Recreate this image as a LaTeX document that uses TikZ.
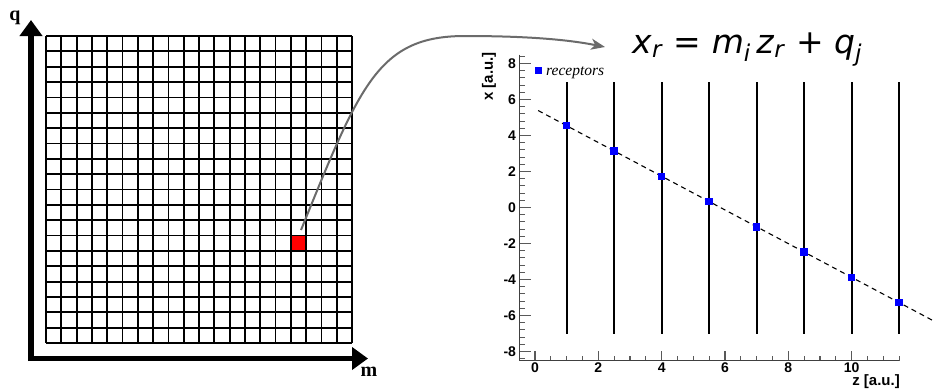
\documentclass[tikz,border=0pt]{standalone}
\usepackage{fontspec}
\usetikzlibrary{arrows.meta}
\newfontfamily\eqfont{DejaVu Sans}
\newfontfamily\rootfont{Liberation Sans}
\newfontfamily\serfont{Liberation Serif}
\begin{document}
\begin{tikzpicture}[x=1pt,y=-1pt,
  gridline/.style={line width=1.8pt,black},
  bigaxis/.style={line width=5.5pt,black,-{Triangle[length=16pt,width=22pt]}},
  bigaxislabel/.style={font=\serfont\bfseries\fontsize{20}{22}\selectfont,inner sep=0pt},
  curvearrow/.style={line width=2pt,color=black!58,-{Stealth[length=14pt,width=11pt,inset=4pt]}},
  plotaxis/.style={line width=1.3pt,color=black!75},
  tickline/.style={line width=1.1pt,color=black!65},
  ticklabel/.style={font=\rootfont\bfseries\fontsize{14}{16}\selectfont,inner sep=0pt},
  axistitle/.style={font=\rootfont\bfseries\fontsize{15}{17}\selectfont,inner sep=0pt},
  recline/.style={line width=1.7pt,black},
  fitline/.style={line width=1.1pt,black,dash pattern=on 5pt off 4pt},
  recpt/.style={fill=blue,draw=none,minimum size=7.5pt,inner sep=0pt},
  legpt/.style={fill=blue,draw=none,minimum size=7pt,inner sep=0pt}]
\useasboundingbox (0,0) rectangle (933,389);
\fill[white] (0,0) rectangle (933,389);

% ---------- left: (m,q) grid ----------
\node[fill=red,draw=none,minimum width=15.3pt,minimum height=15.35pt,inner sep=0pt,anchor=north west] (cell) at ({46+15.3*16},{36+15.35*13}) {};
\foreach \i in {0,...,20} {
  \draw[gridline] ({46+15.3*\i},36) -- ({46+15.3*\i},343);
  \draw[gridline] (46,{36+15.35*\i}) -- (352,{36+15.35*\i});
}
\coordinate (origin) at (31,361);
\coordinate (qtip) at (31,20);
\coordinate (mstart) at (28,358.5);
\coordinate (mtip) at (368,358.5);
\draw[bigaxis] (origin) -- (qtip);
\draw[bigaxis] (mstart) -- (mtip);
\node[bigaxislabel] (qlab) at (15,18) {q};
\node[bigaxislabel] (mlab) at (369,372) {m};

% ---------- equation and arrow ----------
\node[anchor=base west,inner sep=0pt] (eq) at (632,53)
  {\eqfont\fontsize{33}{40}\selectfont \textit{x}\textsubscript{\textit{r}} = \textit{m}\textsubscript{\textit{i}}\,\textit{z}\textsubscript{\textit{r}} + \textit{q}\textsubscript{\textit{j}}};
\coordinate (arrS) at (301,230);
\coordinate (arrE) at (605,47);
\draw[curvearrow] (arrS) .. controls (360,85) and (378,36) .. (465,36)
                         .. controls (530,36) and (570,40) .. (arrE);

% ---------- right: plot ----------
\begin{scope}[shift={(535,207.5)},x=31.67pt,y=18pt]
  % minor ticks
  \foreach \k in {-21,...,21}
    \draw[tickline] (-0.5,{0.4*\k}) -- ++(6pt,0pt);
  \foreach \k in {1,...,23}
    \draw[tickline] ({0.5*\k},-8.5) -- ++(0pt,5pt);
  % major ticks and labels
  \foreach \v in {-8,-6,...,8} {
    \draw[tickline] (-0.5,\v) -- ++(11.7pt,0pt);
    \node[ticklabel,anchor=east] at ([xshift=-3pt]-0.5,\v) {\v};
  }
  \foreach \v in {0,2,...,10} {
    \draw[tickline] (\v,-8.5) -- ++(0pt,10pt);
    \node[ticklabel,anchor=north] at ([yshift=-2.5pt]\v,-8.5) {\v};
  }
  % axes
  \draw[plotaxis] (-0.5,8.5) -- (-0.5,-8.5) -- (11.5,-8.5);
  % receptor planes
  \foreach \z in {1,2.5,...,11.5}
    \draw[recline] (\z,-7) -- (\z,7);
  % fitted track
  \coordinate (fitA) at (0.1,{5.48-0.936*0.1});
  \coordinate (fitB) at (12.6,{5.48-0.936*12.6});
  \draw[fitline] (fitA) -- (fitB);
  \foreach \z [count=\n] in {1,2.5,...,11.5}
    \node[recpt] (r\n) at (\z,{5.48-0.936*\z}) {};
\end{scope}
\node[axistitle,rotate=90] (ytitle) at (489,76.5) {x [a.u.]};
\node[axistitle,anchor=east] (xtitle) at (900,382) {z [a.u.]};
\node[legpt] (legsq) at (538.5,70.7) {};
\node[anchor=base west,inner sep=0pt,font=\serfont\itshape\fontsize{15.5}{17}\selectfont] (legtxt) at (546,75.5) {receptors};
\end{tikzpicture}
\end{document}
